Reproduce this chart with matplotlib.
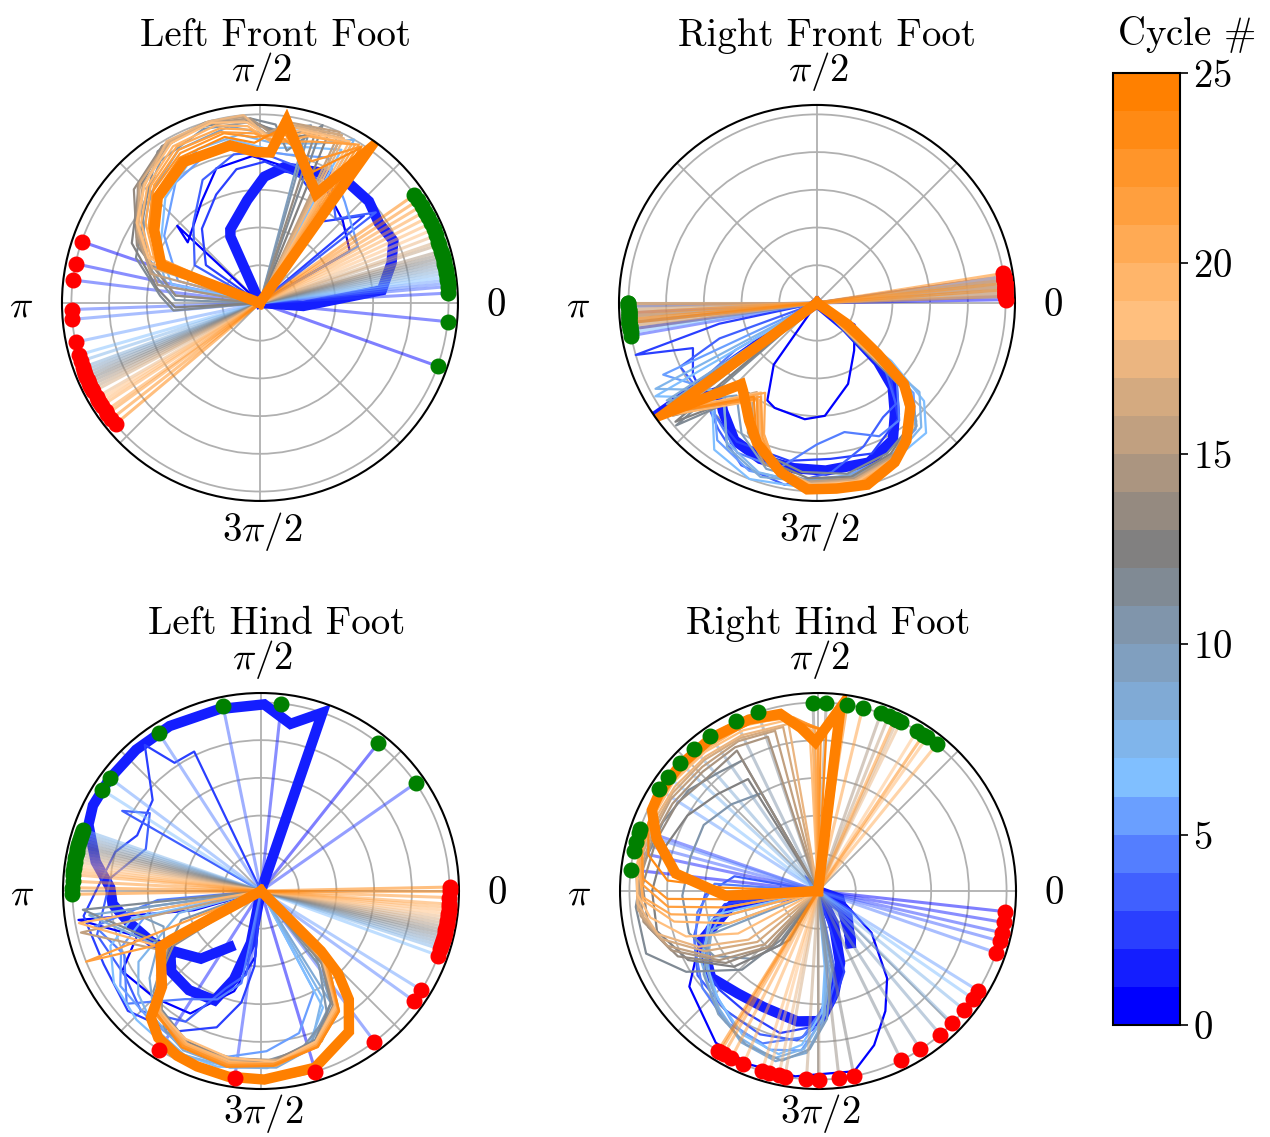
import numpy as np
import matplotlib
matplotlib.use('Agg')
import matplotlib.pyplot as plt
from matplotlib.colors import LinearSegmentedColormap, ListedColormap, BoundaryNorm
import matplotlib.cm as cm

plt.rcParams['font.family'] = 'serif'
plt.rcParams['font.serif'] = ['cmr10']
plt.rcParams['mathtext.fontset'] = 'cm'
plt.rcParams['axes.formatter.use_mathtext'] = True
plt.rcParams['font.size'] = 28

n_cycles = 25
thick_cycles = [1, 24]
cbar_ticks = [0, 5, 10, 15, 20, 25]
theta_labels = ['$0$', r'$\pi/2$', r'$\pi$', r'$3\pi/2$']

# ---- Left Front Foot (angles in degrees, radius) ----
lf_red = [161, 168, 173, 182, 185, 192, 196, 198, 200, 201, 202, 203, 204,
          205, 206, 207, 208, 210, 211, 212, 213, 215, 216, 218, 220]
lf_green = [-19.6, -5.7, 3, 5, 6, 7, 8, 9, 10, 11, 12, 13, 14,
            15, 16, 18, 19, 21, 23, 25, 27, 29, 31, 33, 35]
lf_paths = {
    0: [(0, 0), (137, 0.6), (140, 0.5), (120, 0.62), (108, 0.75), (93, 0.78), (82, 0.74), (60, 0.7), (45, 0.62), (30, 0.55), (0, 0)],
    1: [(0, 0), (114, 0.385), (112, 0.42), (97, 0.55), (88, 0.67), (80, 0.73), (66, 0.76), (53, 0.79), (43, 0.79),
        (34, 0.76), (25, 0.78), (17, 0.73), (6, 0.65), (-4, 0.23), (0, 0)],
    2: [(0, 0), (145, 0.35), (128, 0.5), (112, 0.62), (100, 0.72), (88, 0.75), (72, 0.7), (60, 0.62), (52, 0.55), (40, 0.72), (0, 0)],
    3: [(0, 0), (150, 0.4), (130, 0.55), (115, 0.72), (100, 0.8), (90, 0.8), (75, 0.75), (58, 0.72), (48, 0.6), (38, 0.78), (0, 0)],
    5: [(0, 0), (165, 0.45), (145, 0.62), (125, 0.78), (108, 0.85), (95, 0.82), (80, 0.8), (65, 0.85), (50, 0.7), (30, 0.6), (0, 0)],
    6: [(0, 0), (168, 0.48), (152, 0.6), (132, 0.75), (115, 0.85), (100, 0.88), (88, 0.82), (74, 0.86), (62, 0.92), (0, 0)],
    7: [(0, 0), (170, 0.5), (150, 0.65), (130, 0.8), (112, 0.88), (97, 0.9), (85, 0.85), (70, 0.9), (60, 1.0), (0, 0)],
    9: [(0, 0), (175, 0.45), (155, 0.7), (135, 0.82), (118, 0.92), (100, 0.95), (88, 0.9), (75, 0.95), (0, 0)],
    10: [(0, 0), (178, 0.45), (162, 0.62), (142, 0.8), (125, 0.92), (108, 0.97), (94, 0.96), (84, 0.92), (74, 0.98), (0, 0)],
    11: [(0, 0), (185, 0.46), (176, 0.53), (160, 0.7), (135, 0.84), (124, 0.97), (110, 0.99), (93, 0.98), (85, 0.95),
         (80, 0.82), (70.6, 1.0), (0, 0)],
    12: [(0, 0), (183, 0.45), (172, 0.55), (155, 0.75), (137, 0.88), (122, 0.98), (107, 1.0), (93, 0.97), (86, 0.92),
         (78, 0.9), (68, 0.98), (0, 0)],
    13: [(0, 0), (175, 0.45), (155, 0.72), (138, 0.9), (122, 0.98), (105, 1.0), (92, 0.96), (84, 0.9), (72, 0.96), (0, 0)],
    14: [(0, 0), (170, 0.55), (152, 0.74), (136, 0.9), (121, 0.98), (105, 0.99), (93, 0.98), (86, 0.9), (77, 0.96), (64, 0.99), (0, 0)],
    15: [(0, 0), (165, 0.6), (150, 0.75), (135, 0.88), (120, 0.97), (106, 1.0), (95, 0.99), (88, 0.9), (80, 0.97), (65, 1.0), (0, 0)],
    16: [(0, 0), (162, 0.6), (149, 0.76), (135, 0.9), (120, 0.98), (106, 0.99), (95, 0.97), (87, 0.89), (79, 0.96), (64, 0.99), (0, 0)],
    17: [(0, 0), (160, 0.62), (147, 0.77), (135, 0.87), (120, 0.99), (106, 1.0), (95, 1.0), (87, 0.88), (78, 0.95), (63, 0.98), (0, 0)],
    18: [(0, 0), (158, 0.64), (147, 0.78), (134, 0.88), (119, 0.97), (105, 0.99), (94, 0.96), (86, 0.87), (77, 0.94), (61, 0.98), (0, 0)],
    19: [(0, 0), (157, 0.63), (146, 0.76), (134, 0.86), (119, 0.95), (104, 0.97), (94, 0.94), (85, 0.85), (76, 0.93), (60, 0.97), (0, 0)],
    20: [(0, 0), (157, 0.61), (145, 0.74), (133, 0.85), (118, 0.94), (103, 0.95), (93, 0.92), (85, 0.85), (74, 0.92), (59, 0.98), (0, 0)],
    21: [(0, 0), (156, 0.6), (145, 0.72), (132, 0.84), (118, 0.92), (103, 0.93), (92, 0.9), (84, 0.86), (72, 0.9), (58, 0.99), (0, 0)],
    22: [(0, 0), (157, 0.59), (146, 0.71), (134, 0.82), (118, 0.9), (102, 0.92), (92, 0.88), (84, 0.9), (70, 0.8), (57, 0.99), (0, 0)],
    23: [(0, 0), (158, 0.58), (146, 0.7), (135, 0.8), (119, 0.88), (102, 0.9), (92, 0.85), (83, 0.93), (68, 0.75), (57, 0.98), (0, 0)],
    24: [(0, 0), (159, 0.56), (145.5, 0.68), (134, 0.78), (118.4, 0.85), (100.7, 0.85), (91.3, 0.8), (86, 0.8),
         (81.7, 0.975), (62.7, 0.65), (54.6, 1.0), (0, 0)],
}

# ---- Right Front Foot ----
rf_red = [1, 8, 2, 5, 7, 3, 6, 4, 8, 5, 2, 6, 7, 3, 5, 4, 6, 8, 3, 5, 7, 2, 6, 4, 9]
rf_green = [188, 183, 190, 181, 186, 184, 189, 180, 185, 187, 182, 186, 184,
            188, 181, 183, 186, 185, 182, 187, 184, 180, 183, 185, 186]
rf_paths = {
    0: [(0, 0), (-30, 0.23), (-52, 0.32), (-69, 0.46), (-86, 0.6), (-96, 0.62), (-112, 0.6), (-117, 0.58), (-125, 0.4), (0, 0)],
    1: [(0, 0), (-40, 0.2), (-44, 0.45), (-48, 0.6), (-55, 0.72), (-61, 0.83), (-72, 0.89), (-87, 0.89), (-98, 0.885),
        (-110, 0.88), (-121, 0.85), (-131, 0.76), (-138, 0.70), (-145, 1.0), (0, 0)],
    2: [(0, 0), (-168, 0.53), (-164, 1.0), (-160, 0.7), (-150, 0.76), (-135, 0.8), (-120, 0.85), (-100, 0.85), (-85, 0.83),
        (-70, 0.85), (-55, 0.75), (-45, 0.55), (0, 0)],
    3: [(0, 0), (-160, 0.55), (-155, 0.8), (-140, 0.78), (-128, 0.85), (-115, 0.95), (-100, 0.98), (-85, 0.9), (-72, 0.8),
        (-60, 0.7), (-52, 0.68), (-44, 0.5), (0, 0)],
    4: [(0, 0), (-150, 0.5), (-145, 0.85), (-133, 0.8), (-118, 0.9), (-103, 0.9), (-90, 0.75), (-78, 0.7), (-65, 0.78),
        (-55, 0.76), (-45, 0.6), (0, 0)],
    5: [(0, 0), (-155, 0.9), (-140, 0.72), (-126, 0.9), (-112, 0.96), (-97, 0.95), (-80, 0.93), (-64, 0.9), (-52, 0.85), (-43, 0.7), (0, 0)],
    6: [(0, 0), (-150, 0.99), (-138, 0.75), (-125, 0.95), (-111, 1.0), (-95, 0.98), (-78, 0.96), (-62, 0.92), (-50, 0.9),
        (-42.5, 0.77), (-38, 0.5), (0, 0)],
    7: [(0, 0), (-152, 0.97), (-137, 0.68), (-123, 0.88), (-109, 0.95), (-93, 0.96), (-77, 0.95), (-62, 0.91), (-50, 0.86), (-41, 0.72), (0, 0)],
    8: [(0, 0), (-147, 0.95), (-135, 0.7), (-122, 0.9), (-108, 0.97), (-92, 0.95), (-77, 0.93), (-62, 0.9), (-50, 0.82),
        (-42, 0.65), (0, 0)],
    9: [(0, 0), (-146, 0.96), (-131, 0.65), (-120, 0.8), (-107, 0.92), (-93, 0.94), (-78, 0.94), (-63, 0.9), (-51, 0.84), (-43, 0.68), (0, 0)],
    11: [(0, 0), (-139, 0.99), (-128, 0.62), (-118, 0.75), (-108, 0.85), (-95, 0.9), (-80, 0.92), (-65, 0.88), (-53, 0.82),
         (-45, 0.66), (0, 0)],
    12: [(0, 0), (-140, 0.98), (-127, 0.6), (-117, 0.76), (-106, 0.88), (-93, 0.93), (-79, 0.94), (-64, 0.89), (-52, 0.81), (-44, 0.64), (0, 0)],
    14: [(0, 0), (-142, 0.97), (-126, 0.62), (-118, 0.78), (-108, 0.9), (-93, 0.95), (-78, 0.95), (-63, 0.9), (-52, 0.8),
         (-44, 0.62), (0, 0)],
    15: [(0, 0), (-142, 0.97), (-125, 0.6), (-116, 0.77), (-106, 0.9), (-93, 0.95), (-78, 0.96), (-63, 0.91), (-52, 0.81), (-44, 0.62), (0, 0)],
    16: [(0, 0), (-143, 0.98), (-124, 0.57), (-115, 0.74), (-105, 0.89), (-92, 0.96), (-78, 0.96), (-64, 0.92), (-52, 0.82), (-43, 0.6), (0, 0)],
    17: [(0, 0), (-143, 0.96), (-123, 0.58), (-114, 0.75), (-105, 0.9), (-92, 0.96), (-78, 0.97), (-64, 0.92), (-53, 0.83),
         (-44, 0.63), (0, 0)],
    18: [(0, 0), (-144, 0.97), (-122, 0.56), (-113, 0.74), (-104, 0.9), (-92, 0.97), (-77, 0.97), (-63, 0.93), (-52, 0.83), (-43, 0.62), (0, 0)],
    19: [(0, 0), (-143, 0.99), (-121, 0.6), (-112, 0.78), (-104, 0.91), (-91, 0.97), (-77, 0.98), (-63, 0.92), (-51, 0.81), (-43, 0.6), (0, 0)],
    20: [(0, 0), (-144, 0.98), (-120, 0.55), (-112, 0.75), (-104, 0.9), (-92, 0.97), (-77, 0.98), (-63, 0.93), (-52, 0.82),
         (-43, 0.6), (0, 0)],
    21: [(0, 0), (-144, 0.98), (-121, 0.58), (-112, 0.77), (-104, 0.91), (-92, 0.98), (-76, 0.98), (-62, 0.93), (-51, 0.8), (-42, 0.58), (0, 0)],
    22: [(0, 0), (-144, 0.99), (-122, 0.6), (-113, 0.8), (-104, 0.92), (-91, 0.98), (-76, 0.99), (-62, 0.94), (-51, 0.8),
         (-42, 0.58), (0, 0)],
    23: [(0, 0), (-144, 1.0), (-124, 0.6), (-114, 0.79), (-104, 0.92), (-92, 0.99), (-76, 0.99), (-63, 0.94), (-51, 0.8), (-42, 0.58), (0, 0)],
    24: [(0, 0), (-35, 0.2), (-40, 0.42), (-43, 0.63), (-48, 0.74), (-57, 0.87), (-64, 0.94), (-74.5, 1.0), (-84, 0.99),
         (-93, 0.99), (-102, 0.92), (-113, 0.81), (-120, 0.72), (-130, 0.61), (-133, 0.59), (-144, 1.0), (0, 0)],
}

# ---- Left Hind Foot ----
lh_red = [-73.2, -122.6, -98, -53, -35.7, -31.7, -20, -18, -17, -16, -15, -14, -13,
          -12, -11, -10, -9, -8, -7, -6, -5, -4, -2, 0, 1.2]
lh_green = [51.6, 83.8, 34.9, 101.6, 122.9, 143.2, 147.5, 161, 162, 163, 164, 165, 166,
            167, 168, 169, 170, 171, 172, 173, 174, 175, 177, 179, 181]
lh_paths = {
    0: [(0, 0), (-164, 0.37), (-171, 0.98), (-160, 0.7), (-150, 0.85), (-135, 0.8), (-120, 0.75), (-105, 0.55), (-95, 0.35), (0, 0)],
    1: [(-119, 0.34), (-131.6, 0.48), (-145, 0.56), (-155, 0.64), (-166.6, 0.72), (-175, 0.79), (178.7, 0.8), (170, 0.89),
        (159, 0.98), (153, 1.0), (143.5, 1.0), (131.5, 1.0), (119, 1.0), (103, 0.99), (89, 0.99), (80, 0.9), (71, 1.0),
        (0, 0), (-101, 0.28), (-107, 0.49), (-113, 0.63), (-126, 0.65), (-138, 0.64), (-143, 0.6)],
    2: [(0, 0), (115.6, 0.82), (124, 0.82), (128.5, 0.99), (140, 0.75), (155.8, 0.72), (165, 0.8), (-172, 0.95), (-155, 0.92),
        (-138, 0.95), (-122, 0.88), (-108, 0.76), (-100, 0.6), (-95, 0.4), (0, 0)],
    3: [(0, 0), (150, 0.85), (145, 0.72), (160, 0.65), (175, 0.8), (-165, 0.9), (-148, 0.85), (-135, 0.9), (-120, 0.8),
        (-110, 0.55), (-100, 0.45), (0, 0)],
    4: [(0, 0), (-175, 0.55), (-168, 0.9), (-155, 0.8), (-140, 0.93), (-125, 0.7), (-112, 0.62), (-102, 0.5), (0, 0)],
    5: [(0, 0), (-170, 0.6), (-158, 0.8), (-146, 0.9), (-132, 0.9), (-118, 0.92), (-102, 0.9), (-88, 0.85), (-75, 0.78), (-62, 0.6), (0, 0)],
    6: [(0, 0), (-168, 0.7), (-160, 0.85), (-148, 0.92), (-134, 0.95), (-120, 0.97), (-104, 0.96), (-88, 0.94), (-74, 0.88), (-62, 0.7), (0, 0)],
    7: [(0, 0), (-165, 0.45), (-150, 0.75), (-140, 0.85), (-128, 0.92), (-115, 0.96), (-100, 0.95), (-85, 0.93), (-72, 0.86),
        (-60, 0.65), (0, 0)],
    8: [(0, 0), (-172, 0.92), (-152, 0.62), (-142, 0.75), (-130, 0.88), (-116, 0.94), (-100, 0.95), (-85, 0.94), (-70, 0.87), (-58, 0.7), (0, 0)],
    9: [(0, 0), (-172, 0.72), (-160, 0.55), (-145, 0.62), (-135, 0.8), (-122, 0.9), (-105, 0.93), (-88, 0.92), (-72, 0.85),
        (-58, 0.7), (-50, 0.45), (0, 0)],
    10: [(0, 0), (-160, 0.45), (-147, 0.6), (-137, 0.78), (-124, 0.9), (-108, 0.92), (-92, 0.92), (-76, 0.87), (-62, 0.75), (-52, 0.5), (0, 0)],
    11: [(0, 0), (-174, 0.95), (-150, 0.58), (-140, 0.68), (-130, 0.82), (-115, 0.9), (-100, 0.92), (-85, 0.9), (-70, 0.84),
         (-58, 0.7), (-50, 0.5), (0, 0)],
    12: [(0, 0), (-149, 0.56), (-141, 0.7), (-131, 0.83), (-117, 0.89), (-100, 0.91), (-85, 0.9), (-70, 0.86), (-58, 0.72), (-49, 0.5), (0, 0)],
    13: [(0, 0), (-148, 0.55), (-140, 0.7), (-130, 0.84), (-116, 0.9), (-100, 0.9), (-86, 0.9), (-70, 0.85), (-58, 0.72), (-50, 0.5), (0, 0)],
    14: [(0, 0), (-150, 0.57), (-140, 0.69), (-129, 0.84), (-115, 0.9), (-99, 0.92), (-84, 0.91), (-69, 0.85), (-57, 0.72), (-49, 0.52), (0, 0)],
    15: [(0, 0), (-167, 0.98), (-148, 0.6), (-139, 0.72), (-129, 0.85), (-115, 0.92), (-100, 0.93), (-84, 0.92), (-68, 0.86),
         (-56, 0.72), (-48, 0.48), (0, 0)],
    16: [(0, 0), (-149, 0.6), (-139, 0.72), (-129, 0.85), (-116, 0.91), (-100, 0.91), (-84, 0.9), (-69, 0.86), (-57, 0.74), (-48, 0.5), (0, 0)],
    17: [(0, 0), (-151, 0.58), (-141, 0.71), (-130, 0.83), (-116, 0.9), (-101, 0.93), (-86, 0.92), (-70, 0.85), (-57, 0.72), (-48, 0.49), (0, 0)],
    18: [(0, 0), (-150, 0.58), (-140, 0.7), (-130, 0.84), (-117, 0.88), (-101, 0.9), (-85, 0.91), (-70, 0.85), (-57, 0.73), (-48, 0.5), (0, 0)],
    19: [(0, 0), (-170, 0.98), (-150, 0.6), (-140, 0.71), (-130, 0.85), (-116, 0.9), (-100, 0.92), (-85, 0.92), (-70, 0.86),
         (-57, 0.74), (-48, 0.5), (0, 0)],
    20: [(0, 0), (-151, 0.57), (-140, 0.7), (-130, 0.84), (-116, 0.91), (-101, 0.93), (-85, 0.92), (-70, 0.87), (-57, 0.75), (-47, 0.5), (0, 0)],
    21: [(0, 0), (-158, 1.0), (-152, 0.6), (-140, 0.72), (-130, 0.86), (-116, 0.92), (-100, 0.94), (-85, 0.93), (-70, 0.87),
         (-57, 0.75), (-47, 0.5), (0, 0)],
    22: [(0, 0), (-152, 0.58), (-141, 0.7), (-131, 0.86), (-117, 0.92), (-101, 0.94), (-86, 0.92), (-70, 0.88), (-57, 0.76), (-47, 0.52), (0, 0)],
    23: [(0, 0), (-153, 0.55), (-141, 0.7), (-131, 0.85), (-117, 0.93), (-101, 0.95), (-86, 0.93), (-70, 0.88), (-57, 0.76), (-47, 0.52), (0, 0)],
    24: [(0, 0), (-45, 0.2), (-45, 0.45), (-47, 0.6), (-51, 0.74), (-58, 0.88), (-73, 0.98), (-89, 1.0), (-100, 1.0), (-110, 0.99),
         (-117, 0.98), (-125, 0.95), (-131, 0.89), (-136, 0.73), (-151, 0.61), (-151.5, 0.54), (0, 0)],
}

# ---- Right Hind Foot ----
rh_red = [-6.3, -9.6, -12.8, -15.4, -19.1, -31.9, -34.8, -39.1, -44.6, -49.6, -57.1, -63.8, -79,
          -83.6, -89.7, -93.5, -100.1, -102, -105, -107.3, -113.3, -117.4, -120, -121.3, -122]
rh_green = [173.5, 167.9, 160.9, 165, 162, 147.4, 142.8, 137.1, 131.1, 124.8, 115.9, 108.6, 91.5,
            87.5, 70.5, 68, 65.1, 64, 58.3, 54.6, 51, 76.3, 66, 56, 81.1]
rh_paths = {
    0: [(0, 0), (-170, 0.45), (-155, 0.7), (-143.4, 0.85), (-124, 0.97), (-112, 0.99), (-97, 0.99), (-78.6, 0.975),
        (-70, 0.87), (-60.7, 0.73), (-51.6, 0.59), (-38, 0.36), (-20, 0.13), (0, 0)],
    1: [(0, 0), (-171, 0.46), (-165, 0.53), (-157, 0.67), (-141, 0.73), (-128, 0.69), (-115, 0.68), (-99, 0.70), (-89, 0.69),
        (-81, 0.55), (-73, 0.40), (-64, 0.19), (0, 0), (-36, 0.19), (-60, 0.35), (-55, 0.3), (-20, 0.12), (0, 0)],
    2: [(0, 0), (-172, 0.5), (-162, 0.62), (-150, 0.72), (-135, 0.74), (-120, 0.75), (-105, 0.78), (-92, 0.72), (-82, 0.6), (-72, 0.45), (0, 0)],
    3: [(0, 0), (170, 0.45), (-178, 0.6), (-160, 0.7), (-145, 0.78), (-128, 0.8), (-112, 0.82), (-98, 0.8), (-88, 0.7), (-80, 0.5), (0, 0)],
    4: [(0, 0), (176, 0.55), (-170, 0.65), (-155, 0.72), (-140, 0.8), (-125, 0.85), (-110, 0.86), (-96, 0.78), (-86, 0.6), (-78, 0.4), (0, 0)],
    5: [(0, 0), (-170, 0.5), (-155, 0.66), (-138, 0.76), (-122, 0.84), (-107, 0.88), (-96, 0.85), (-88, 0.68), (-83, 0.42), (0, 0)],
    6: [(0, 0), (-167, 0.59), (-150, 0.7), (-132.7, 0.78), (-117.9, 0.86), (-103.6, 0.89), (-96, 0.82), (-88, 0.64), (-85, 0.41), (0, 0)],
    7: [(0, 0), (-165, 0.58), (-150, 0.72), (-134, 0.8), (-119, 0.88), (-105, 0.92), (-95, 0.84), (-87, 0.66), (-84, 0.4), (0, 0)],
    8: [(0, 0), (-160, 0.6), (-145, 0.72), (-130, 0.82), (-117, 0.9), (-104, 0.93), (-94, 0.86), (-88, 0.7), (-82, 0.45), (0, 0)],
    9: [(0, 0), (-158, 0.62), (-144, 0.75), (-129, 0.84), (-115, 0.9), (-102, 0.92), (-93, 0.84), (-86, 0.68), (-80, 0.42), (0, 0)],
    10: [(0, 0), (-120, 0.3), (-134, 0.5), (-148, 0.65), (-162, 0.72), (-178, 0.72), (165, 0.7), (150, 0.7), (135, 0.65), (120, 0.6), (0, 0)],
    11: [(0, 0), (-127, 0.32), (-134, 0.58), (-148.5, 0.82), (-160, 0.97), (-175, 0.97), (172, 0.94), (156, 0.9), (142, 0.87),
         (130, 0.82), (120, 0.8), (0, 0)],
    12: [(0, 0), (-125, 0.35), (-138, 0.6), (-152, 0.78), (-166, 0.88), (180, 0.88), (165, 0.85), (150, 0.8), (136, 0.74), (122, 0.7), (0, 0)],
    13: [(0, 0), (-130, 0.38), (-142, 0.62), (-155, 0.82), (-168, 0.92), (178, 0.93), (163, 0.9), (148, 0.88), (134, 0.84), (120, 0.86), (0, 0)],
    14: [(0, 0), (-132, 0.4), (-145, 0.64), (-158, 0.84), (-170, 0.94), (177, 0.95), (163, 0.92), (149, 0.9), (134, 0.88),
         (120, 0.88), (108, 0.86), (0, 0)],
    15: [(0, 0), (-135, 0.4), (-148, 0.66), (-160, 0.85), (-172, 0.95), (176, 0.96), (162, 0.93), (148, 0.92), (133, 0.9),
         (118, 0.9), (105, 0.88), (0, 0)],
    16: [(0, 0), (-140, 0.42), (-152, 0.68), (-163, 0.87), (-174, 0.96), (174, 0.97), (160, 0.94), (146, 0.93), (131, 0.92),
         (117, 0.91), (102, 0.89), (0, 0)],
    17: [(0, 0), (-145, 0.45), (-155, 0.7), (-165, 0.88), (-176, 0.96), (172, 0.97), (158, 0.95), (144, 0.94), (130, 0.93),
         (116, 0.92), (100, 0.9), (0, 0)],
    18: [(0, 0), (-152, 0.48), (-161, 0.74), (-171, 0.9), (-179, 0.96), (171, 0.97), (157, 0.96), (143, 0.96), (129, 0.95),
         (115, 0.94), (101, 0.92), (93, 0.86), (0, 0)],
    19: [(0, 0), (-160, 0.5), (-168, 0.78), (-177, 0.93), (170, 0.97), (157, 0.97), (143, 0.97), (129, 0.96), (114, 0.96),
         (100, 0.94), (92, 0.85), (0, 0)],
    20: [(0, 0), (-165, 0.5), (-171, 0.79), (-178, 0.93), (168, 0.97), (155, 0.97), (141, 0.97), (127, 0.97), (112, 0.96),
         (99, 0.93), (91, 0.86), (0, 0)],
    21: [(0, 0), (-170, 0.5), (-174, 0.8), (178, 0.93), (166, 0.96), (152, 0.97), (139, 0.97), (125, 0.97), (110, 0.97),
         (98, 0.93), (90, 0.86), (0, 0)],
    22: [(0, 0), (-175, 0.5), (-177, 0.8), (176, 0.93), (165, 0.97), (150, 0.98), (137, 0.98), (123, 0.98), (109, 0.97),
         (98, 0.92), (89, 0.86), (0, 0)],
    23: [(0, 0), (178, 0.5), (176, 0.8), (168, 0.92), (158, 0.97), (146, 0.98), (133, 0.98), (119, 0.98), (106, 0.97),
         (97, 0.9), (87, 0.85), (0, 0)],
    24: [(0, 0), (183, 0.49), (173, 0.76), (162, 0.9), (154, 0.98), (148, 0.99), (138, 0.99), (125, 0.99), (112, 0.98),
         (102, 0.96), (96, 0.87), (91, 0.79), (83, 0.98), (0, 0)],
}

base_cmap = LinearSegmentedColormap.from_list(
    'cycles', [(0, 0, 1), (0.5, 0.75, 1), (0.5, 0.5, 0.5), (1, 0.75, 0.5), (1, 0.5, 0)])
cycle_cmap = ListedColormap([base_cmap(i / (n_cycles - 1)) for i in range(n_cycles)])


def draw_foot(ax, title, paths, red, green, title_x, bottom_label_y):
    for c in range(n_cycles):
        col = cycle_cmap(c)
        if c in paths:
            th = np.deg2rad([p[0] for p in paths[c]])
            r = [p[1] for p in paths[c]]
            if c in thick_cycles:
                ax.plot(th, r, color=col, lw=7.5, solid_joinstyle='miter', zorder=2)
            else:
                ax.plot(th, r, color=col, lw=1.6, zorder=2)
        for ang in (red[c], green[c]):
            ax.plot([np.deg2rad(ang)] * 2, [0, 1], color=col, lw=2.2, alpha=0.5, zorder=2)
    ax.plot(np.deg2rad(red), np.ones(n_cycles), 'o', color='red', ms=10.5, zorder=4, clip_on=False)
    ax.plot(np.deg2rad(green), np.ones(n_cycles), 'o', color='green', ms=10.5, zorder=4, clip_on=False)

    ax.set_ylim(0, 1.05)
    ax.set_yticks([0.2, 0.4, 0.6, 0.8, 1.0])
    ax.set_yticklabels([])
    ax.set_thetagrids(np.arange(0, 360, 45), [''] * 8)
    # theta labels placed by hand (axes fraction, baseline)
    label_pos = [(1.096, 0.468), (0.505, 1.061), (-0.104, 0.467), (0.505, bottom_label_y)]
    for lab, (x, y) in zip(theta_labels, label_pos):
        ax.text(x, y, lab, transform=ax.transAxes, ha='center', va='baseline', fontsize=28)
    ax.grid(True, color='#b0b0b0', lw=1.3)
    ax.spines['polar'].set_linewidth(1.5)
    ax.set_title(title, x=title_x, y=1.15, pad=0, fontsize=28)


fig = plt.figure(figsize=(12.7, 11.37), dpi=100)
ax_lf = fig.add_axes([0.0488, 0.5594, 0.3118, 0.3483], projection='polar')
ax_rf = fig.add_axes([0.4874, 0.5594, 0.3118, 0.3483], projection='polar')
ax_lh = fig.add_axes([0.0496, 0.0422, 0.3118, 0.3483], projection='polar')
ax_rh = fig.add_axes([0.4882, 0.0422, 0.3118, 0.3483], projection='polar')

draw_foot(ax_lf, 'Left Front Foot', lf_paths, lf_red, lf_green, 0.54, -0.101)
draw_foot(ax_rf, 'Right Front Foot', rf_paths, rf_red, rf_green, 0.525, -0.101)
draw_foot(ax_lh, 'Left Hind Foot', lh_paths, lh_red, lh_green, 0.54, -0.086)
draw_foot(ax_rh, 'Right Hind Foot', rh_paths, rh_red, rh_green, 0.525, -0.086)

cax = fig.add_axes([0.8764, 0.0985, 0.0528, 0.8373])
norm = BoundaryNorm(np.arange(n_cycles + 1), n_cycles)
sm = cm.ScalarMappable(norm=norm, cmap=cycle_cmap)
cb = fig.colorbar(sm, cax=cax, ticks=cbar_ticks)
cb.minorticks_off()
cb.ax.tick_params(labelsize=28, length=6, width=1.2)
cb.outline.set_linewidth(1.5)
fig.text(0.9345, 0.9604, r'Cycle $\#$', ha='center', va='baseline', fontsize=28)

plt.savefig('out.png', dpi=100)
